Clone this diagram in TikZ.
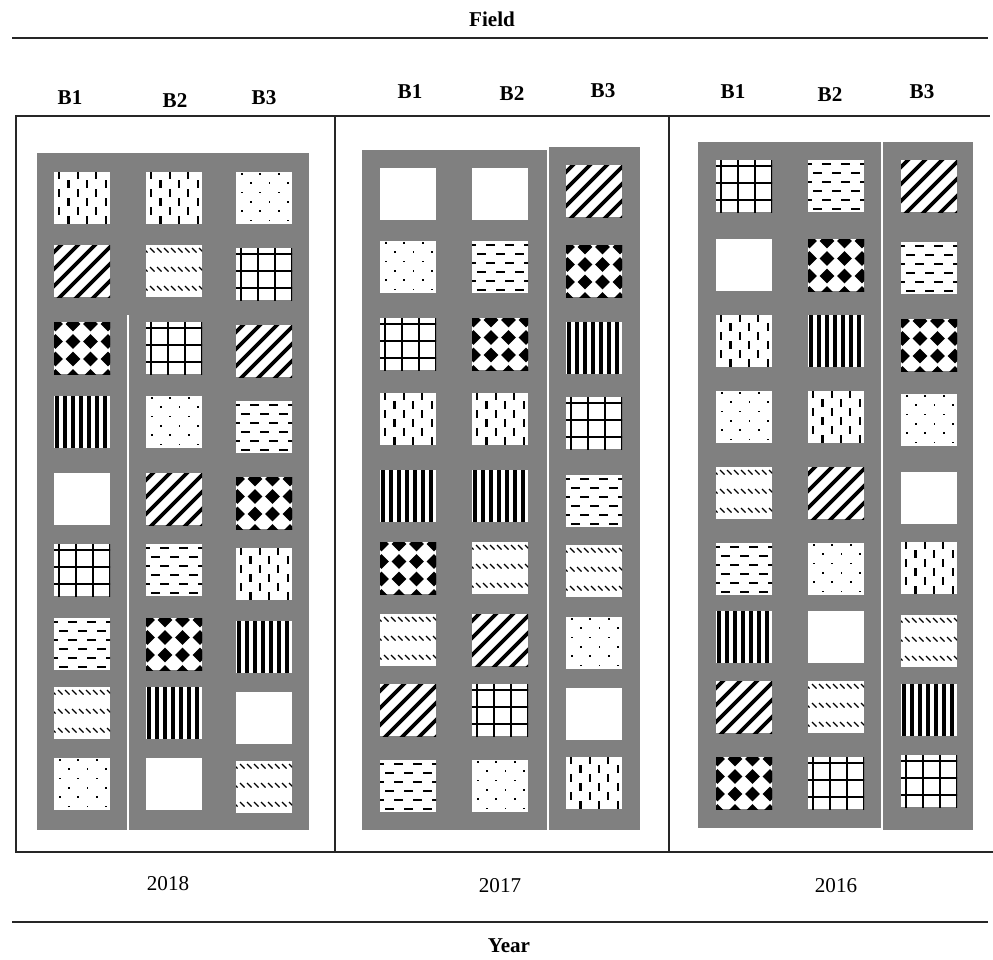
\documentclass[tikz,border=0pt]{standalone}
\usepackage{fontspec}
\setmainfont{Liberation Serif}
\usepackage{xcolor}
\definecolor{plotgray}{HTML}{808080}

% fill motifs, drawn in a 56 x 52 cell (pixel units, y down)
\newcommand{\motifE}{}
\newcommand{\motifV}{%
  \foreach \mx in {4,22.6,41.2} \foreach \my in {-1,17,35,53}
    \fill (\mx,\my) rectangle ++(2.2,7.5);
  \foreach \mx in {13.3,31.9,50.5} \foreach \my in {8,26,44}
    \fill (\mx,\my) rectangle ++(2.2,7.5);
}
\newcommand{\motifD}{%
  \foreach \mx in {4.7,23.3,41.9} \foreach \my in {1,19.6,38.2}
    \fill (\mx,\my) rectangle ++(1.8,1.8);
  \foreach \mx in {14,32.6,51.2} \foreach \my in {10.3,28.9,47.5}
    \fill (\mx,\my) rectangle ++(1.8,1.8);
}
\newcommand{\motifS}{%
  \foreach \k in {-51,-34,...,68}
    \draw[line width=2.6pt] (\k,58) -- ++(64,-64);
}
\newcommand{\motifT}{%
  \foreach \my in {3,22,41} \foreach \mx in {-3,4,...,60}
    \draw[line width=0.85pt] (\mx,\my) -- ++(4.5,4.5);
}
\newcommand{\motifG}{%
  \foreach \mv in {5,22,39,56} \draw[line width=1.8pt] (\mv,-2) -- (\mv,54);
  \foreach \mv in {6,23,40} \draw[line width=1.8pt] (-2,\mv) -- (58,\mv);
}
\newcommand{\motifC}{%
  \foreach \mx in {1.5,19,36.5,54} \foreach \my in {2,19.5,37,54.5} {
    \fill (\mx,\my) circle (4.8);
    \fill (\mx-7.3,\my) -- (\mx,\my-7.3) -- (\mx+7.3,\my) -- (\mx,\my+7.3) -- cycle;
  }
}
\newcommand{\motifL}{%
  \foreach \mx in {1,9,...,57} \fill (\mx,0) rectangle ++(3.8,52);
}
\newcommand{\motifH}{%
  \foreach \my in {3,21,39} \foreach \mx in {-5,14,33,52}
    \fill (\mx,\my) rectangle ++(9,2.2);
  \foreach \my in {12,30,48} \foreach \mx in {4.5,23.5,42.5}
    \fill (\mx,\my) rectangle ++(9,2.2);
}

\tikzset{
  pics/cell/.style={code={
    \fill[white] (0,0) rectangle (56,52);
    \begin{scope}
      \clip (0,0) rectangle (56,52);
      \csname motif#1\endcsname
    \end{scope}
  }},
  heading/.style={font=\bfseries\fontsize{15}{18}\selectfont},
  yearlabel/.style={font=\fontsize{15}{18}\selectfont},
  tablerule/.style={line width=0.8pt, black!85},
  divider/.style={white, line width=0.9pt},
}

\begin{document}
\begin{tikzpicture}[x=0.025cm, y=-0.025cm]
  \useasboundingbox (0,0) rectangle (993,960);

  % plots in grey
  \fill[plotgray] (37,153) rectangle (309,830);
  \draw[divider] (128,315) -- (128,830);
  \fill[plotgray] (362,150) rectangle (547,830);
  \fill[plotgray] (549,147) rectangle (640,830);
  \fill[plotgray] (698,142) rectangle (881,828);
  \fill[plotgray] (883,142) rectangle (973,830);

  % 2018
  \foreach \ya/\yb/\pa/\pb/\pc in {172/172/V/V/D, 245/248/S/T/G, 322/325/C/G/S,
      396/401/L/D/H, 473/477/E/S/C, 544/548/G/H/V, 618/621/H/C/L,
      687/692/T/L/E, 758/761/D/E/T} {
    \pic at (54,\ya) {cell=\pa};
    \pic at (146,\ya) {cell=\pb};
    \pic at (236,\yb) {cell=\pc};
  }
  % 2017
  \foreach \ya/\yb/\pa/\pb/\pc in {168/165/E/E/S, 241/245/D/H/C, 318/322/G/C/L,
      393/397/V/V/G, 470/475/L/L/H, 542/545/C/T/T, 614/617/T/S/D,
      684/688/S/G/E, 760/757/H/D/V} {
    \pic at (380,\ya) {cell=\pa};
    \pic at (472,\ya) {cell=\pb};
    \pic at (566,\yb) {cell=\pc};
  }
  % 2016
  \foreach \ya/\yb/\pa/\pb/\pc in {160/160/G/H/S, 239/242/E/C/H, 315/319/V/L/C,
      391/394/D/V/D, 467/472/T/S/E, 543/542/H/D/V, 611/615/L/E/T,
      681/684/S/T/L, 757/755/C/G/G} {
    \pic at (716,\ya) {cell=\pa};
    \pic at (808,\ya) {cell=\pb};
    \pic at (901,\yb) {cell=\pc};
  }

  % table rules
  \draw[tablerule] (12,38) -- (988,38);
  \draw[tablerule] (15,116) -- (990,116);
  \draw[tablerule] (15,852) -- (993,852);
  \draw[tablerule] (12,922) -- (988,922);
  \draw[tablerule] (16,116) -- (16,852);
  \draw[tablerule] (335,116) -- (335,852);
  \draw[tablerule] (669,116) -- (669,852);

  % labels
  \node[heading] (field) at (492,19) {Field};
  \node[heading] (year) at (509,946) {Year};
  \node[heading] (b1a) at (70,98) {B1};
  \node[heading] (b2a) at (175,101) {B2};
  \node[heading] (b3a) at (264,98) {B3};
  \node[heading] (b1b) at (410,92) {B1};
  \node[heading] (b2b) at (512,94) {B2};
  \node[heading] (b3b) at (603,91) {B3};
  \node[heading] (b1c) at (733,92) {B1};
  \node[heading] (b2c) at (830,95) {B2};
  \node[heading] (b3c) at (922,92) {B3};
  \node[yearlabel] (y2018) at (168,884) {2018};
  \node[yearlabel] (y2017) at (500,886) {2017};
  \node[yearlabel] (y2016) at (836,886) {2016};
\end{tikzpicture}
\end{document}
